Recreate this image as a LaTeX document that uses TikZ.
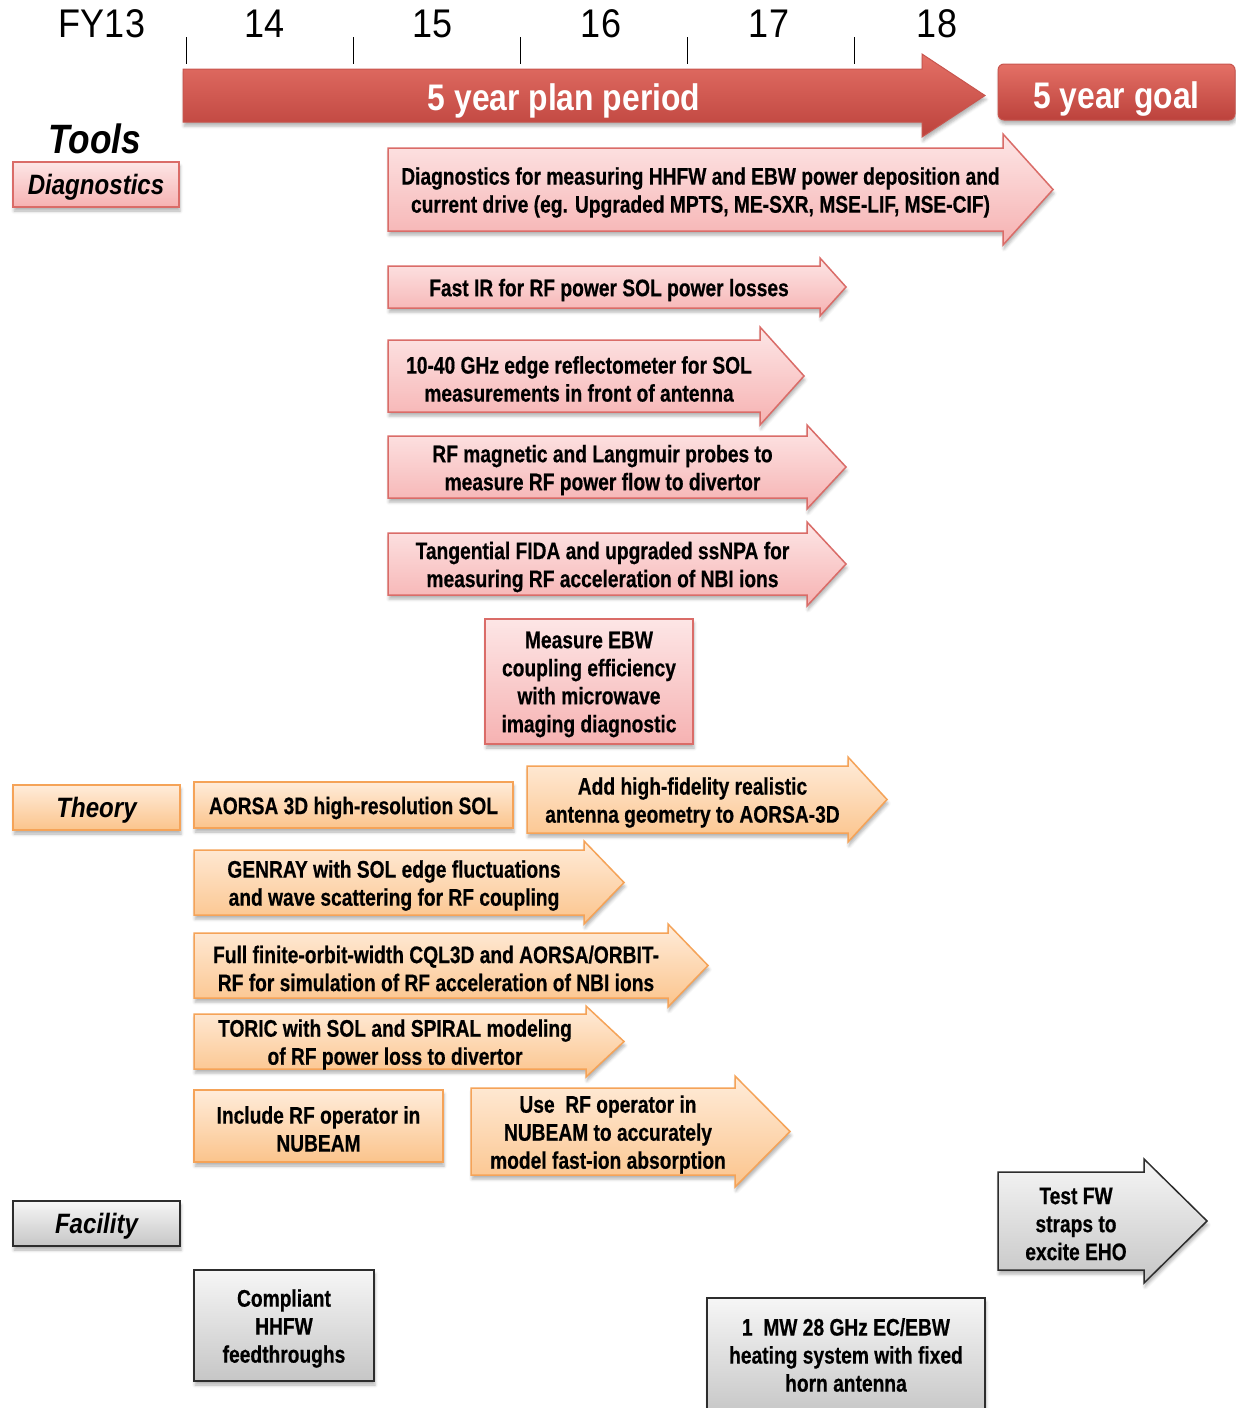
\documentclass[tikz,border=0pt]{standalone}
\usepackage{fontspec}
\setmainfont{Liberation Sans}
\newfontfamily\yearfont{Liberation Sans}[FakeStretch=0.9]
\newfontfamily\headfont{Liberation Sans}[FakeStretch=0.86]
\newfontfamily\boxfont{Liberation Sans}[FakeStretch=0.8, BoldFeatures={FakeBold=0.5}]
\usetikzlibrary{shadows.blur}

\definecolor{pinktop}{RGB}{253,230,230}
\definecolor{pinkbot}{RGB}{246,178,178}
\definecolor{pinkline}{RGB}{218,108,104}
\definecolor{orangetop}{RGB}{255,236,218}
\definecolor{orangebot}{RGB}{251,196,140}
\definecolor{orangeline}{RGB}{245,163,88}
\definecolor{graytop}{RGB}{246,246,246}
\definecolor{graybot}{RGB}{198,198,198}
\definecolor{grayline}{RGB}{45,45,45}
\definecolor{redtop}{RGB}{228,112,102}
\definecolor{redbot}{RGB}{188,66,60}
\definecolor{redline}{RGB}{200,85,78}

\newcommand{\planarrow}[9]{%
  \draw[#1] (#3,#6) -- (#4,#6) -- (#4,#6-#8) -- (#5,{(#6+#7)/2}) -- (#4,#7+#8) -- (#4,#7) -- (#3,#7) -- cycle;
  \node[boxtext, xshift=5pt] (#2) at ({(#3+#4)/2},{(#6+#7)/2}) {#9};}

\begin{document}
\begin{tikzpicture}[x=1pt, y=-1pt,
    shade/.style={blur shadow={shadow xshift=1pt, shadow yshift=-4pt, shadow blur radius=3pt, shadow opacity=30}},
    pinkfill/.style={shade, top color=pinktop, bottom color=pinkbot, draw=pinkline, line width=1.5pt},
    orangefill/.style={shade, top color=orangetop, bottom color=orangebot, draw=orangeline, line width=1.5pt},
    grayfill/.style={shade, top color=graytop, bottom color=graybot, draw=grayline, line width=1.5pt},
    redfill/.style={shade, top color=redtop, bottom color=redbot, draw=redline, line width=1pt},
    year/.style={font=\yearfont\fontsize{40}{44}\selectfont},
    headtext/.style={text=white, font=\headfont\bfseries\fontsize{37}{40}\selectfont},
    labeltext/.style={inner sep=0, minimum width=167, minimum height=45, text height=20pt, text depth=0pt, font=\headfont\bfseries\itshape\fontsize{28}{32}\selectfont},
    boxtext/.style={inner sep=0, align=center, yshift=-3pt, font=\boxfont\bfseries\fontsize{24}{28}\selectfont}]
    \useasboundingbox (0,0) rectangle (1236,1408);

    \foreach \x/\yr in {102/FY13, 265/14, 433/15, 601/16, 769/17, 937/18}
        \node[year] (yr\yr) at (\x,24) {\yr};
    \foreach \x in {186,353,520,687,854}
        \draw[line width=1pt] (\x,37) -- (\x,64);

    \draw[redfill] (183,69) -- (922,69) -- (922,54) -- (985,95.5) -- (922,137) -- (922,122) -- (183,122) -- cycle;
    \node[headtext] (plan) at (564,101) {5 year plan period};
    \node[redfill, rounded corners=6pt, minimum width=237, minimum height=56, text height=32.5pt, text depth=0pt, headtext] (goal) at (1116.5,92) {5 year goal};

    \node[font=\headfont\bfseries\itshape\fontsize{41}{46}\selectfont] (tools) at (95,139) {Tools};
    \node[pinkfill, labeltext, minimum width=166] (diag) at (96,184.5) {Diagnostics};
    \node[orangefill, labeltext] (theory) at (96.5,807.5) {Theory};
    \node[grayfill, labeltext] (facility) at (96.5,1223.5) {Facility};

    \planarrow{pinkfill}{deposition}{388}{1003}{1053}{148}{231}{14}{Diagnostics for measuring HHFW and EBW power deposition and\\current drive (eg. Upgraded MPTS, ME-SXR, MSE-LIF, MSE-CIF)}
    \planarrow{pinkfill}{fastir}{388}{820}{846}{266}{308}{8}{Fast IR for RF power SOL power losses}
    \planarrow{pinkfill}{reflecto}{388}{760}{804}{340}{412}{13}{10-40 GHz edge reflectometer for SOL\\measurements in front of antenna}
    \planarrow{pinkfill}{probes}{388}{807}{846}{436}{498}{11}{RF magnetic and Langmuir probes to\\measure RF power flow to divertor}
    \planarrow{pinkfill}{fida}{388}{807}{846}{533}{595}{11}{Tangential FIDA and upgraded ssNPA for\\measuring RF acceleration of NBI ions}
    \node[pinkfill, minimum width=208, minimum height=125] (ebw) at (589,681.5) {};
    \node[boxtext] (ebwtext) at (ebw) {Measure EBW\\coupling efficiency\\with microwave\\imaging diagnostic};

    \node[orangefill, minimum width=319, minimum height=46] (aorsa) at (353.5,805) {};
    \node[boxtext] (aorsatext) at (aorsa) {AORSA 3D high-resolution SOL};
    \planarrow{orangefill}{antenna}{527}{848}{887}{766}{833}{9}{Add high-fidelity realistic\\antenna geometry to AORSA-3D}
    \planarrow{orangefill}{genray}{194}{584}{624}{850}{915}{9}{GENRAY with SOL edge fluctuations\\and wave scattering for RF coupling}
    \planarrow{orangefill}{cqlthreed}{194}{668}{708}{933}{998}{9}{Full finite-orbit-width CQL3D and AORSA/ORBIT-\\RF for simulation of RF acceleration of NBI ions}
    \planarrow{orangefill}{toric}{194}{586}{624}{1014}{1069}{8}{TORIC with SOL and SPIRAL modeling\\of RF power loss to divertor}
    \node[orangefill, minimum width=249, minimum height=72] (include) at (318.5,1126) {};
    \node[boxtext] (includetext) at (include) {Include RF operator in\\NUBEAM};
    \planarrow{orangefill}{nubeam}{471}{735}{790}{1088}{1175}{12}{Use~~RF operator in\\NUBEAM to accurately\\model fast-ion absorption}

    \planarrow{grayfill}{testfw}{998}{1144}{1207}{1172}{1270}{13}{Test FW\\straps to\\excite EHO}
    \node[grayfill, minimum width=180, minimum height=111] (compliant) at (284,1325.5) {};
    \node[boxtext] (complianttext) at (compliant) {Compliant\\HHFW\\feedthroughs};
    \node[grayfill, minimum width=278, minimum height=118] (ecebw) at (846,1357) {};
    \node[boxtext] (ecebwtext) at (846,1352) {1~~MW 28 GHz EC/EBW\\heating system with fixed\\horn antenna};
\end{tikzpicture}
\end{document}
